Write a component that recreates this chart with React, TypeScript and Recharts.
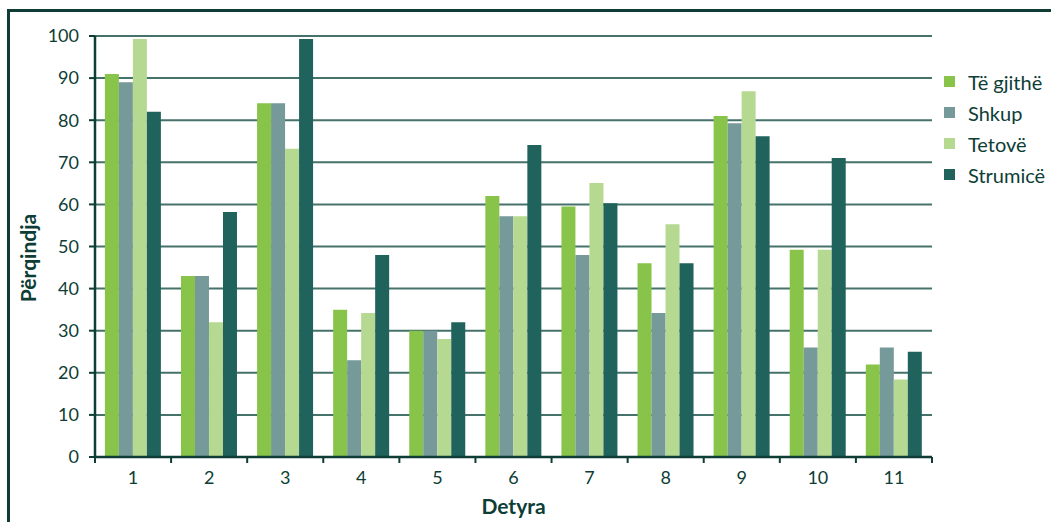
import React from 'react';
import { BarChart, Bar, XAxis, YAxis, CartesianGrid, Legend, Label } from 'recharts';

const categories = ['1', '2', '3', '4', '5', '6', '7', '8', '9', '10', '11'];
const teGjithe = [91, 43, 84, 35, 30, 62, 59.5, 46, 81, 49.2, 22];
const shkup = [89, 43, 84, 23, 30, 57.2, 48, 34.2, 79.3, 26, 26];
const tetove = [99.3, 32, 73.2, 34.2, 28, 57.2, 65.1, 55.3, 86.9, 49.2, 18.4];
const strumice = [82, 58.2, 99.3, 48, 32, 74.1, 60.3, 46, 76.2, 71, 25];
const yTicks = [0, 10, 20, 30, 40, 50, 60, 70, 80, 90, 100];

const seriesNames = ['Të gjithë', 'Shkup', 'Tetovë', 'Strumicë'];
const seriesColors = ['#88c34a', '#76999a', '#b6d991', '#20625c'];

const data = categories.map((c, i) => ({
  name: c,
  s0: teGjithe[i],
  s1: shkup[i],
  s2: tetove[i],
  s3: strumice[i],
}));

const TEXT = '#0d3d35';
const FONT = 'Lato, "Noto Sans", sans-serif';

const XTick = (props: any) => {
  const { x, y, payload, index } = props;
  const half = payload && payload.offset ? payload.offset : 38.05;
  const axisY = y - 8;
  const last = index === categories.length - 1;
  return (
    <g>
      <line x1={x - half} x2={x - half} y1={axisY} y2={axisY + 6} stroke={TEXT} strokeWidth={2} />
      {last && <line x1={x + half} x2={x + half} y1={axisY} y2={axisY + 6} stroke={TEXT} strokeWidth={2} />}
      <text x={x} y={axisY + 20} textAnchor="middle" dominantBaseline="central" fill={TEXT} fontSize={18} fontFamily={FONT}>
        {payload.value}
      </text>
    </g>
  );
};

const LegendContent = (props: any) => {
  const payload = [...(props.payload || [])].sort(
    (a: any, b: any) => seriesNames.indexOf(a.value) - seriesNames.indexOf(b.value)
  );
  return (
    <div style={{ fontFamily: FONT }}>
      {payload.map((p: any, i: number) => (
        <div key={i} style={{ display: 'flex', alignItems: 'center', height: 31 }}>
          <div style={{ width: 11, height: 11, background: p.color, marginRight: 13 }} />
          <span style={{ color: TEXT, fontSize: 20 }}>{p.value}</span>
        </div>
      ))}
    </div>
  );
};

export default function App() {
  return (
    <div style={{ position: 'absolute', left: 0, top: 0, width: 1051, height: 522, overflow: 'hidden', background: '#fff' }}>
      <div style={{ position: 'absolute', left: 7, top: 9, width: 1200, height: 700, borderTop: '3px solid #0f3d35', borderLeft: '3px solid #0f3d35' }} />
      <div style={{ position: 'absolute', left: 0, top: 0 }}>
        <BarChart
          width={1051}
          height={522}
          data={data}
          margin={{ top: 36, right: 119, bottom: 0, left: 35 }}
          barCategoryGap="13%"
          barGap={0}
        >
          <CartesianGrid vertical={false} stroke="#45726a" strokeWidth={2} />
          <XAxis
            dataKey="name"
            height={65}
            tickLine={false}
            tickSize={0}
            tickMargin={8}
            axisLine={{ stroke: TEXT, strokeWidth: 2.5 }}
            tick={<XTick />}
            interval={0}
          >
            <Label
              content={(p: any) => {
                const vb = p.viewBox;
                return (
                  <text x={vb.x + vb.width / 2} y={505} textAnchor="middle" dominantBaseline="central" fill={TEXT} fontSize={21} fontWeight={700} fontFamily={FONT}>
                    Detyra
                  </text>
                );
              }}
            />
          </XAxis>
          <YAxis
            width={60}
            domain={[0, 100]}
            ticks={yTicks}
            interval={0}
            tickSize={6}
            tickMargin={10}
            tickLine={{ stroke: TEXT, strokeWidth: 2 }}
            axisLine={{ stroke: TEXT, strokeWidth: 2.5 }}
            tick={{ fill: TEXT, fontSize: 18, fontFamily: FONT }}
          >
            <Label
              content={() => {
                const cx = 27;
                const cy = 258;
                return (
                  <text x={cx} y={cy} transform={`rotate(-90 ${cx} ${cy})`} textAnchor="middle" dominantBaseline="central" fill={TEXT} fontSize={21} fontWeight={700} fontFamily={FONT}>
                    Përqindja
                  </text>
                );
              }}
            />
          </YAxis>
          <Legend
            layout="vertical"
            align="center"
            verticalAlign="middle"
            content={<LegendContent />}
            wrapperStyle={{ position: 'absolute', left: 944, top: 66, width: 110 }}
          />
          {seriesNames.map((n, i) => (
            <Bar key={n} dataKey={`s${i}`} name={n} fill={seriesColors[i]} isAnimationActive={false} />
          ))}
        </BarChart>
      </div>
    </div>
  );
}
